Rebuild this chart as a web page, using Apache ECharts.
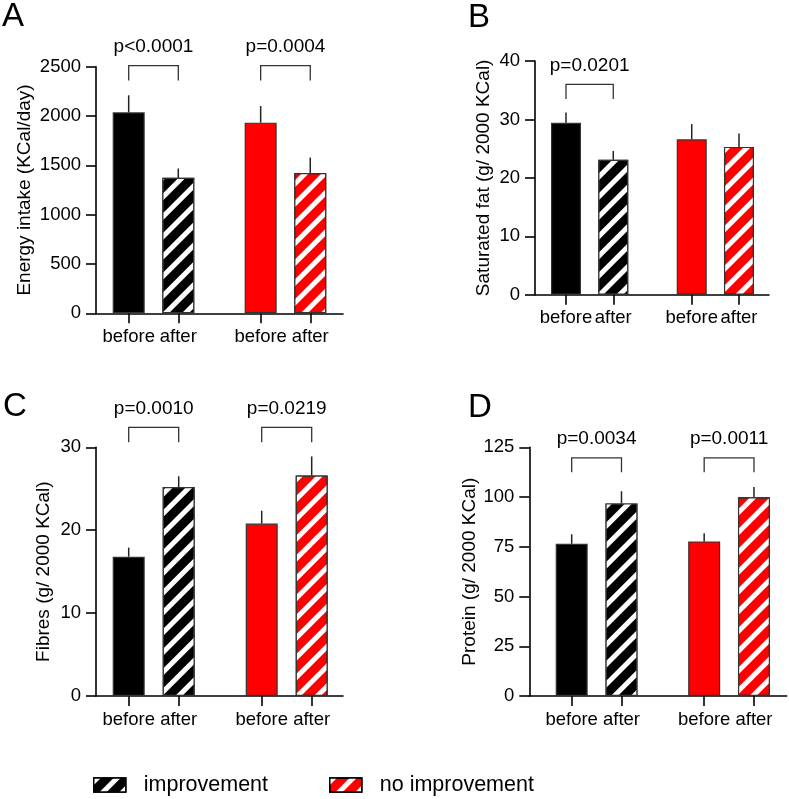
<!DOCTYPE html>
<html>
<head>
<meta charset="utf-8">
<script src="https://cdn.jsdelivr.net/npm/echarts@6/dist/echarts.min.js"></script>
<style>
    html, body { margin: 0; padding: 0; background: #fff; }
    #chart { width: 789px; height: 799px; }
</style>
</head>
<body>
<div id="chart"></div>
<script>
// x positions of the four bars (before / after, improvement then no improvement)
var xPos = [1, 2, 3.66, 4.66];
var xLabels = ['before', 'after', 'before', 'after'];
var groupNames = ['improvement', 'no improvement'];

// A: energy intake
var energyMean = [2037, 1373, 1933, 1423];
var energySem = [173, 95, 168, 156];
var energyP = ['p<0.0001', 'p=0.0004'];

// B: saturated fat
var fatMean = [29.45, 23.1, 26.6, 25.3];
var fatSem = [1.75, 1.5, 2.6, 2.3];
var fatP = ['p=0.0201'];

// C: fibres
var fibreMean = [16.8, 25.2, 20.8, 26.6];
var fibreSem = [1.1, 1.3, 1.55, 2.3];
var fibreP = ['p=0.0010', 'p=0.0219'];

// D: protein
var proteinMean = [76.5, 96.8, 77.7, 99.9];
var proteinSem = [4.8, 6.1, 4.1, 5.1];
var proteinP = ['p=0.0034', 'p=0.0011'];

var FONT = '"Liberation Sans", Arial, sans-serif';
var RED = '#ff0000';
var hatch = {
    symbol: 'rect',
    symbolSize: 1,
    dashArrayX: [1, 0],
    dashArrayY: [5, 9],
    rotation: -Math.PI / 4,
    color: '#fff'
};

// layout of the four panels, in pixels
var panels = [
    {grid: {left: 96, top: 66.7, width: 247, height: 246.6}, xMin: 0.341, xMax: 5.32, yMax: 2500, yStep: 500,
        name: 'Energy intake (KCal/day)', nameGap: 62, barWidth: 32,
        mean: energyMean, sem: energySem, p: energyP, bracket: [2510, 2360]},
    {grid: {left: 535, top: 61, width: 234, height: 233.7}, xMin: 0.344, xMax: 5.295, yMax: 40, yStep: 10,
        name: 'Saturated fat (g/ 2000 KCal)', nameGap: 42, barWidth: 30,
        mean: fatMean, sem: fatSem, p: fatP, bracket: [36.0, 33.5]},
    {grid: {left: 96, top: 447.3, width: 247, height: 248.7}, xMin: 0.346, xMax: 5.286, yMax: 30, yStep: 10,
        name: 'Fibres (g/ 2000 KCal)', nameGap: 43, barWidth: 32,
        mean: fibreMean, sem: fibreSem, p: fibreP, bracket: [32.4, 30.6]},
    {grid: {left: 529.3, top: 447.3, width: 257.4, height: 248.7}, xMin: 0.149, xMax: 5.317, yMax: 125, yStep: 25,
        name: 'Protein (g/ 2000 KCal)', nameGap: 44, barWidth: 32,
        mean: proteinMean, sem: proteinSem, p: proteinP, bracket: [119.7, 112.4]}
];

var axisLine = {show: true, lineStyle: {color: '#000', width: 1.6}};

var grids = [], xAxes = [], yAxes = [], series = [];

panels.forEach(function (pn, i) {
    grids.push(pn.grid);
    xAxes.push({
        gridIndex: i, type: 'value', min: pn.xMin, max: pn.xMax,
        axisLine: axisLine,
        axisTick: {show: true, customValues: xPos, length: 10, lineStyle: {color: '#000', width: 1.6}},
        axisLabel: {
            customValues: xPos, margin: 14, fontSize: 18.5, color: '#000', fontFamily: FONT,
            formatter: function (v) {
                for (var k = 0; k < xPos.length; k++) {
                    if (Math.abs(xPos[k] - v) < 1e-6) return xLabels[k];
                }
                return '';
            }
        },
        splitLine: {show: false}
    });
    yAxes.push({
        gridIndex: i, type: 'value', min: 0, max: pn.yMax, interval: pn.yStep,
        name: pn.name, nameLocation: 'middle', nameGap: pn.nameGap,
        nameTextStyle: {fontSize: 19, color: '#000', fontFamily: FONT},
        axisLine: axisLine,
        axisTick: {show: true, length: 10, lineStyle: {color: '#000', width: 1.6}},
        axisLabel: {
            margin: 15, fontSize: 18.5, color: '#000', fontFamily: FONT,
            formatter: function (v) { return String(v); }
        },
        splitLine: {show: false}
    });

    // bars
    series.push({
        type: 'bar', xAxisIndex: i, yAxisIndex: i, barWidth: pn.barWidth, z: 2,
        data: xPos.map(function (x, k) {
            var style = {color: k < 2 ? '#000' : RED, borderColor: '#333', borderWidth: 1.2};
            if (k % 2 === 1) style.decal = hatch;
            return {value: [x, pn.mean[k]], itemStyle: style};
        })
    });

    // error bars (upper only)
    series.push({
        type: 'custom', xAxisIndex: i, yAxisIndex: i, z: 3,
        data: xPos.map(function (x, k) {
            return [x, pn.mean[k], pn.mean[k] + pn.sem[k]];
        }),
        renderItem: function (params, api) {
            var base = api.coord([api.value(0), api.value(1)]);
            var top = api.coord([api.value(0), api.value(2)]);
            return {
                type: 'line',
                shape: {x1: base[0], y1: base[1], x2: top[0], y2: top[1]},
                style: {stroke: '#222', lineWidth: 1.5}
            };
        }
    });

    // significance brackets with p values
    series.push({
        type: 'custom', xAxisIndex: i, yAxisIndex: i, z: 3,
        data: pn.p.map(function (label, k) {
            return [xPos[k * 2], xPos[k * 2 + 1], pn.bracket[0], pn.bracket[1]];
        }),
        renderItem: function (params, api) {
            var a = api.coord([api.value(0), api.value(3)]);
            var b = api.coord([api.value(0), api.value(2)]);
            var c = api.coord([api.value(1), api.value(2)]);
            var d = api.coord([api.value(1), api.value(3)]);
            return {
                type: 'group',
                children: [{
                    type: 'polyline',
                    shape: {points: [a, b, c, d]},
                    style: {stroke: '#333', lineWidth: 1.3, fill: null}
                }, {
                    type: 'text',
                    style: {
                        text: pn.p[params.dataIndex], x: (b[0] + c[0]) / 2, y: b[1] - 19,
                        align: 'center', verticalAlign: 'middle',
                        fontSize: 19, fontFamily: FONT, fill: '#000'
                    }
                }]
            };
        }
    });
});

// hidden grid that only carries the legend series
grids.push({left: 0, top: 0, width: 1, height: 1});
xAxes.push({gridIndex: 4, type: 'value', show: false});
yAxes.push({gridIndex: 4, type: 'value', show: false});
groupNames.forEach(function (name, k) {
    series.push({
        name: name, type: 'bar', xAxisIndex: 4, yAxisIndex: 4, data: [],
        itemStyle: {color: k === 0 ? '#000' : RED, decal: hatch}
    });
});

var chart = echarts.init(document.getElementById('chart'));
chart.setOption({
    animation: false,
    textStyle: {fontFamily: FONT},
    grid: grids,
    xAxis: xAxes,
    yAxis: yAxes,
    legend: {
        data: groupNames, left: 93, top: 774, padding: 0, itemGap: 61,
        itemWidth: 32, itemHeight: 14, icon: 'rect',
        itemStyle: {borderColor: '#000', borderWidth: 1.5},
        textStyle: {fontSize: 21.5, color: '#000', fontFamily: FONT, padding: [0, 0, 0, 13]}
    },
    graphic: [
        {type: 'text', left: 2, top: 0, style: {text: 'A', fontSize: 33, fontFamily: FONT, fill: '#000'}},
        {type: 'text', left: 468, top: 1, style: {text: 'B', fontSize: 33, fontFamily: FONT, fill: '#000'}},
        {type: 'text', left: 3, top: 390, style: {text: 'C', fontSize: 33, fontFamily: FONT, fill: '#000'}},
        {type: 'text', left: 468, top: 391, style: {text: 'D', fontSize: 33, fontFamily: FONT, fill: '#000'}}
    ],
    series: series
});
</script>
</body>
</html>
